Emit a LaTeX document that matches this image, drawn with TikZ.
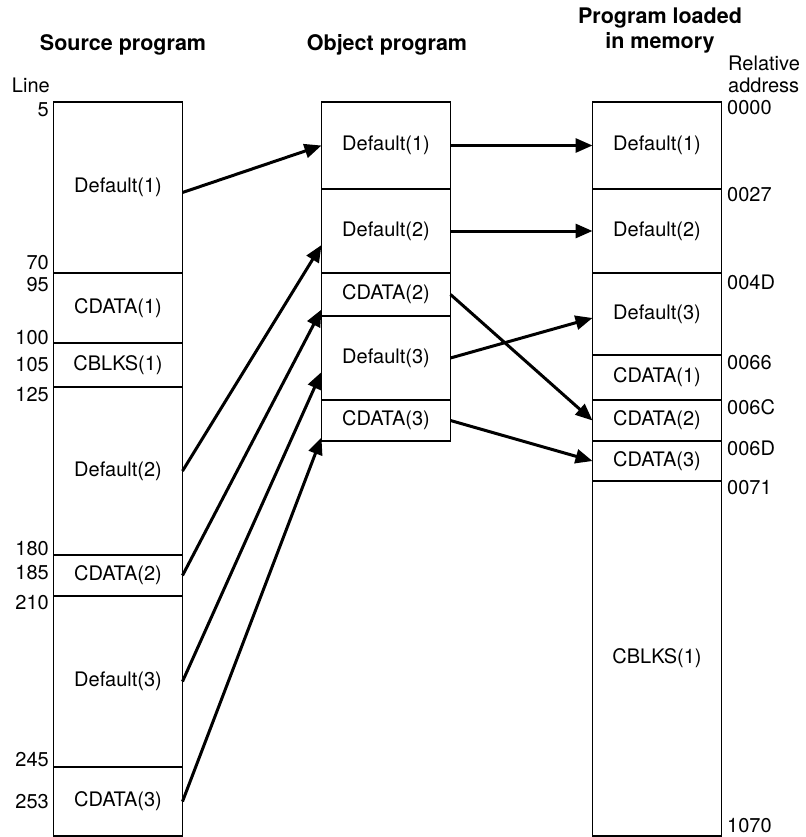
\documentclass[tikz,border=0pt]{standalone}
\usepackage{fontspec}
\setmainfont{TeX Gyre Heros}
\usetikzlibrary{positioning, arrows.meta}

\begin{document}
\begin{tikzpicture}[x=1pt, y=-1pt, node distance=0pt,
    every node/.style={font=\fontsize{20}{22}\selectfont},
    seg/.style={draw, line width=1.8pt, minimum width=129pt, outer sep=0pt, inner sep=0pt},
    num/.style={anchor=east, inner sep=0pt},
    addr/.style={anchor=west, inner sep=0pt},
    head/.style={font=\fontsize{21.5}{25}\selectfont\bfseries, align=center},
    link/.style={line width=3pt, -{Triangle[length=17pt, width=14pt]}}]
        \useasboundingbox (0,0) rectangle (805,837);
        \node[head] (src) at (123,45) {Source program};
        \node[head] (obj) at (387,45) {Object program};
        \node[head] (mem) at (660,31) {Program loaded\\in memory};
        \node[num] (line) at (50,85) {Line};
        \node[addr, align=left] (rel) at (728,74) {Relative\\address};

        \node[seg, minimum height=171, anchor=north] (s1) at (118,102) {Default(1)};
        \node[seg, minimum height=70, below=of s1] (s2) {CDATA(1)};
        \node[seg, minimum height=44, below=of s2] (s3) {CBLKS(1)};
        \node[seg, minimum height=168, below=of s3] (s4) {Default(2)};
        \node[seg, minimum height=41, below=of s4] (s5) {CDATA(2)};
        \node[seg, minimum height=171, below=of s5] (s6) {Default(3)};
        \node[seg, minimum height=69, below=of s6] (s7) {CDATA(3)};

        \node[seg, minimum height=87, anchor=north] (o1) at (386,102) {Default(1)};
        \node[seg, minimum height=84, below=of o1] (o2) {Default(2)};
        \node[seg, minimum height=43, below=of o2] (o3) {CDATA(2)};
        \node[seg, minimum height=84, below=of o3] (o4) {Default(3)};
        \node[seg, minimum height=41, below=of o4] (o5) {CDATA(3)};

        \node[seg, minimum height=87, anchor=north] (m1) at (657,102) {Default(1)};
        \node[seg, minimum height=84, below=of m1] (m2) {Default(2)};
        \node[seg, minimum height=82, below=of m2] (m3) {Default(3)};
        \node[seg, minimum height=45, below=of m3] (m4) {CDATA(1)};
        \node[seg, minimum height=41, below=of m4] (m5) {CDATA(2)};
        \node[seg, minimum height=40, below=of m5] (m6) {CDATA(3)};
        \node[seg, minimum height=355, below=of m6] (m7) {CBLKS(1)};

        \foreach \v/\y in {5/110, 70/263, 95/285, 100/338, 105/365, 125/395, 180/549, 185/573, 210/603, 245/760, 253/802}
          \node[num] (n\v) at (49,\y) {\v};
        \foreach \v/\y in {0000/108, 0027/195, 004D/282, 0066/363, 006C/407, 006D/448, 0071/488, 1070/826}
          \node[addr] (a\v) at (727,\y) {\v};

        \draw[link] ([yshift=-5]s1.east) -- (o1.west);
        \draw[link] (s4.east) -- ([yshift=-14]o2.west);
        \draw[link] (s5.east) -- ([yshift=-15]o3.west);
        \draw[link] (s6.east) -- ([yshift=-14]o4.west);
        \draw[link] (s7.east) -- ([yshift=-17]o5.west);
        \draw[link] (o1.east) -- (m1.west);
        \draw[link] (o2.east) -- (m2.west);
        \draw[link] (o3.east) -- (m5.west);
        \draw[link] (o4.east) -- ([yshift=-4]m3.west);
        \draw[link] (o5.east) -- (m6.west);
      \end{tikzpicture}
\end{document}
